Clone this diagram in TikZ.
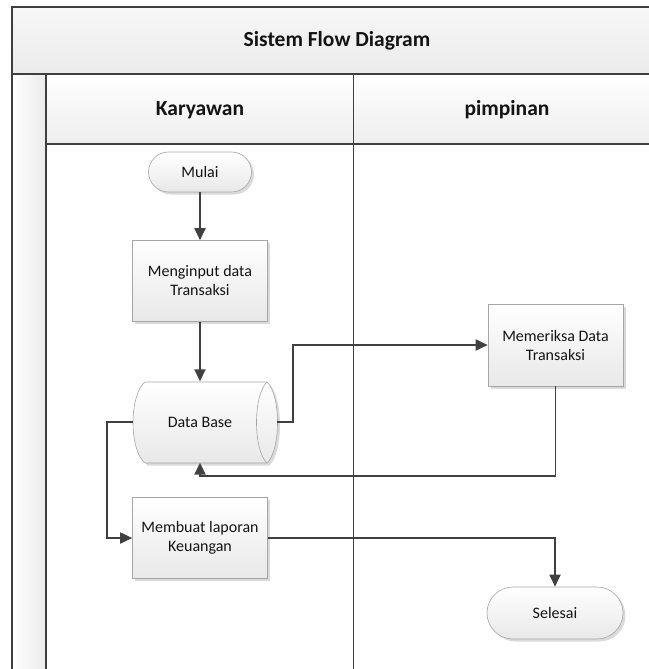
\documentclass[tikz,border=0pt]{standalone}
\usepackage{fontspec}
\setmainfont{Carlito}
\usetikzlibrary{arrows.meta,shadows,calc}
\definecolor{frameline}{HTML}{3F3F3F}
\definecolor{nodeline}{HTML}{A6A6A6}
\definecolor{connline}{HTML}{404040}
\definecolor{shadowc}{HTML}{DADADA}
\definecolor{txt}{HTML}{141414}
\newcommand{\nodefont}{\fontsize{16bp}{19bp}\selectfont}
\newcommand{\headfont}{\fontsize{21.5bp}{25bp}\selectfont\bfseries}
\tikzset{
  frame/.style={draw=frameline, line width=1.8bp},
  lanediv/.style={draw=frameline, line width=1bp},
  proc/.style={draw=nodeline, line width=0.6bp, top color=white, bottom color=black!9,
    minimum width=135bp, minimum height=81bp, align=center, font=\nodefont, text=txt,
    inner sep=0pt,
    drop shadow={shadow xshift=2.5bp, shadow yshift=-2.5bp, fill=shadowc, opacity=1}},
  term/.style={proc, minimum width=103bp, minimum height=40bp, rounded corners=20bp},
  conn/.style={draw=connline, line width=1.8bp, -{Triangle[length=12bp,width=11bp]}},
  txtnode/.style={font=\nodefont, text=txt, inner sep=0pt, align=center}
}
\begin{document}
\begin{tikzpicture}[x=1bp,y=-1bp]
\useasboundingbox (0,0) rectangle (649,669);
\begin{scope}
\clip (0,0) rectangle (649,669);
% swimlane frame
\shade[top color=black!3, bottom color=black!8] (12,7) rectangle (670,74);
\shade[top color=white, bottom color=black!7] (46,74) rectangle (670,144);
\shade[left color=white, right color=black!8] (12,74) rectangle (46,690);
\draw[frame] (12,690) -- (12,7) -- (670,7);
\draw[frame] (12,74) -- (670,74);
\draw[frame] (46,74) -- (46,690);
\draw[frame] (46,144) -- (670,144);
\draw[lanediv] (353,74) -- (353,690);
\node[font=\headfont, text=txt] (title) at (337,41) {Sistem Flow Diagram};
\node[font=\headfont, text=txt] (lane1) at (200,110) {Karyawan};
\node[font=\headfont, text=txt] (lane2) at (507,110) {pimpinan};
\end{scope}
% nodes
\node[term] (mulai) at (200,172) {Mulai};
\node[proc] (inp) at (200,281) {Menginput data\\Transaksi};
% data base (direct data cylinder)
\fill[shadowc] (147.5,384.5) -- (269.5,384.5) .. controls (283.5,397.5) and (283.5,452.5) .. (269.5,465.5)
  -- (147.5,465.5) .. controls (131.5,452.5) and (131.5,397.5) .. (147.5,384.5) -- cycle;
\shade[top color=white, bottom color=black!9, draw=nodeline, line width=0.6bp]
  (145,382) -- (267,382) .. controls (281,395) and (281,450) .. (267,463)
  -- (145,463) .. controls (129,450) and (129,395) .. (145,382) -- cycle;
\draw[nodeline, line width=0.6bp] (267,382) .. controls (253,395) and (253,450) .. (267,463);
\node[txtnode, minimum width=134bp, minimum height=81bp] (db) at (200,422) {Data Base};
\coordinate (dbR) at (277,422);
\node[proc] (lap) at (200,538) {Membuat laporan\\Keuangan};
\node[proc, minimum height=82bp] (chk) at (555.5,345) {Memeriksa Data\\Transaksi};
\node[term, minimum width=136bp, minimum height=52bp, rounded corners=26bp] (sel) at (555,613) {Selesai};
% connectors
\draw[conn] (mulai) -- (inp);
\draw[conn] (inp) -- (db.north);
\draw[conn] (dbR) -- (293,422) |- (chk.west);
\draw[conn] (chk.south) -- ++(0,90) -| (db.south);
\draw[conn] (db.west) -- ++(-26,0) |- (lap.west);
\draw[conn] (lap.east) -| (sel.north);
\end{tikzpicture}
\end{document}
